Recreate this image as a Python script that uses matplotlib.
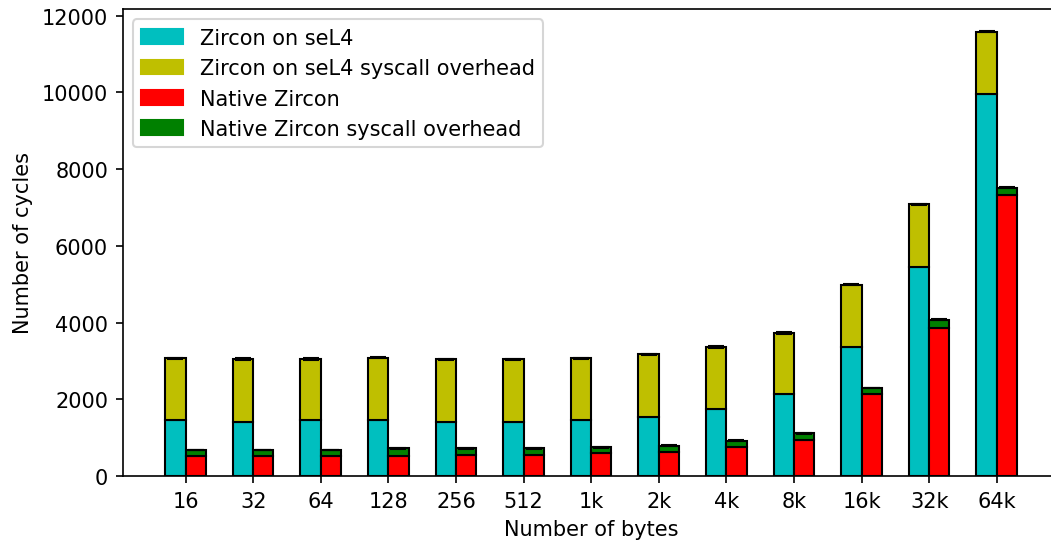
import matplotlib
matplotlib.use('Agg')
import matplotlib.pyplot as plt
import matplotlib.patches as mpatches
import numpy as np

sizes = ['16', '32', '64', '128', '256', '512', '1k', '2k', '4k', '8k', '16k', '32k', '64k']

# cycles per call
sel4 = [1470, 1420, 1470, 1470, 1420, 1420, 1470, 1540, 1740, 2130, 3360, 5450, 9960]
sel4_syscall = [1605, 1630, 1580, 1615, 1630, 1630, 1605, 1630, 1625, 1600, 1630, 1630, 1620]
sel4_err = [15, 15, 15, 15, 12, 12, 15, 15, 15, 15, 15, 15, 15]
native = [513, 513, 513, 513, 548, 548, 591, 635, 757, 948, 2130, 3870, 7340]
native_syscall = [165, 165, 165, 209, 174, 174, 157, 157, 165, 165, 166, 200, 173]
native_err = [12, 12, 12, 12, 10, 10, 12, 12, 12, 12, 12, 12, 12]

x = np.arange(len(sizes))
width = 0.3

fig = plt.figure(figsize=(7.013, 3.613), dpi=150)
# the right edge of the axes runs slightly past the canvas
ax = fig.add_axes([0.1166, 0.1199, 0.8907, 0.8616])

ax.bar(x, sel4, width, align='edge', color='c', edgecolor='k', linewidth=1.0)
ax.bar(x, sel4_syscall, width, bottom=sel4, align='edge', color='y', edgecolor='k',
       linewidth=1.0)
sel4_top = np.array(sel4) + np.array(sel4_syscall)
ax.errorbar(x + width / 2, sel4_top, yerr=sel4_err, fmt='none', ecolor='k', capsize=4, elinewidth=1.5)

xn = x + width
ax.bar(xn, native, width, align='edge', color='r', edgecolor='k', linewidth=1.0)
ax.bar(xn, native_syscall, width, bottom=native, align='edge', color='g', edgecolor='k',
       linewidth=1.0)
native_top = np.array(native) + np.array(native_syscall)
ax.errorbar(xn + width / 2, native_top, yerr=native_err, fmt='none', ecolor='k', capsize=4, elinewidth=1.5)

ax.set_xticks(x + width)
ax.set_xticklabels(sizes)
ax.set_xlabel('Number of bytes')
ax.set_ylabel('Number of cycles')

handles = [mpatches.Patch(color='c', label='Zircon on seL4'),
           mpatches.Patch(color='y', label='Zircon on seL4 syscall overhead'),
           mpatches.Patch(color='r', label='Native Zircon'),
           mpatches.Patch(color='g', label='Native Zircon syscall overhead')]
ax.legend(handles=handles, loc='upper left')

fig.savefig('out.png', dpi=150)
